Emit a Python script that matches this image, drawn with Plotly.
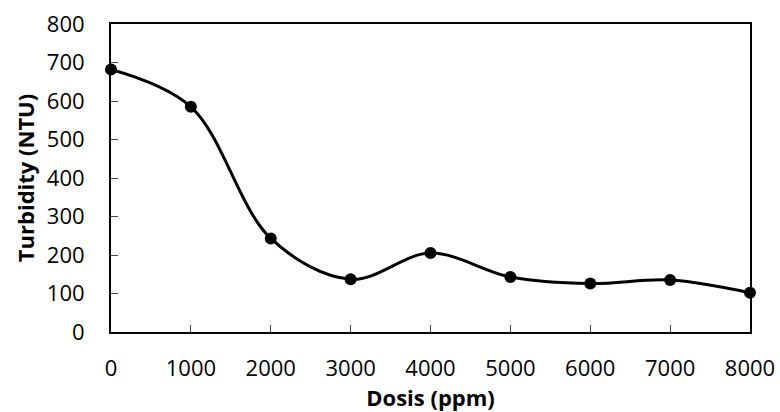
import plotly.graph_objects as go

dosis = [0, 1000, 2000, 3000, 4000, 5000, 6000, 7000, 8000]
turbidity = [682, 585, 243, 137, 205, 143, 126, 135, 102]
x_ticks = [0, 1000, 2000, 3000, 4000, 5000, 6000, 7000, 8000]
y_ticks = [0, 100, 200, 300, 400, 500, 600, 700, 800]

font_family = "Open Sans"
fs = 22

fig = go.Figure()
fig.add_trace(go.Scatter(
    x=dosis, y=turbidity, mode="lines+markers",
    line=dict(color="black", width=3, shape="spline", smoothing=1.0),
    marker=dict(color="black", size=12, symbol="circle"),
    cliponaxis=False, showlegend=False,
))

fig.update_layout(
    width=780, height=412,
    margin=dict(l=111, r=30, t=24, b=80),
    paper_bgcolor="white", plot_bgcolor="white",
    font=dict(family=font_family, color="black", size=fs),
    xaxis=dict(
        range=[0, 8000], tickvals=x_ticks, ticktext=[str(v) for v in x_ticks],
        ticks="inside", ticklen=7, tickwidth=1, tickcolor="#444",
        showline=True, linecolor="black", linewidth=2, mirror=True,
        showgrid=False, zeroline=False, ticklabelstandoff=16,
        tickfont=dict(size=fs), automargin=False,
        title=dict(text="<b>Dosis (ppm)</b>", font=dict(size=fs), standoff=0),
    ),
    yaxis=dict(
        range=[0, 800], tickvals=y_ticks, ticktext=[str(v) for v in y_ticks],
        ticks="inside", ticklen=7, tickwidth=1, tickcolor="#444",
        showline=True, linecolor="black", linewidth=2, mirror=True,
        showgrid=False, zeroline=False, ticklabelstandoff=20,
        tickfont=dict(size=fs), automargin=False,
        title=dict(text="<b>Turbidity (NTU)</b>", font=dict(size=fs), standoff=6),
    ),
)

fig.write_html("out.html", config={"displayModeBar": False},
               post_script="document.body.style.margin='0';")
